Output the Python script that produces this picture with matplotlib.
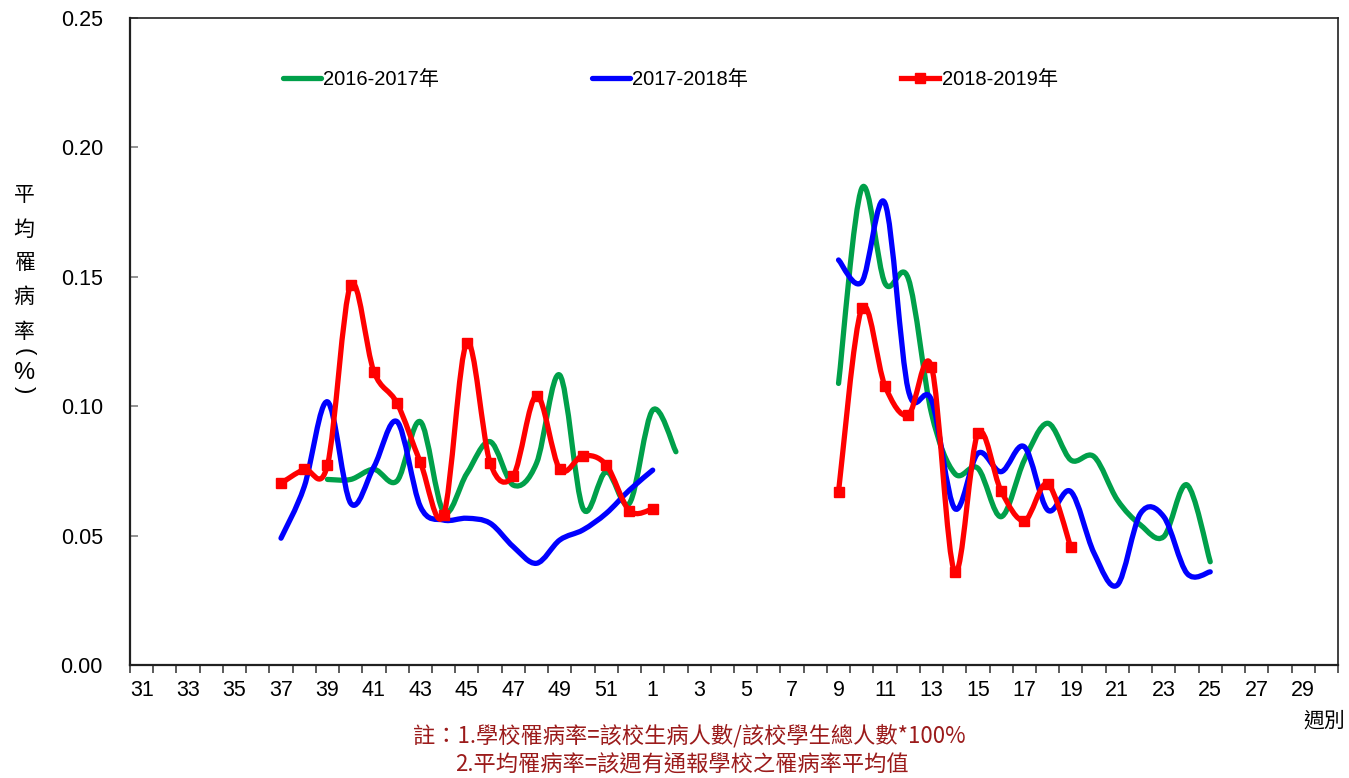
import matplotlib
matplotlib.use("Agg")
import matplotlib.pyplot as plt
from matplotlib.path import Path
from matplotlib.patches import PathPatch
from matplotlib.lines import Line2D

# ---------------- data ----------------
weeks = list(range(31, 53)) + list(range(1, 31))
tick_labels = [str(w) if i % 2 == 0 else "" for i, w in enumerate(weeks)]

# 2016-2017 season
g_fall_start = 39
g_fall = [0.0717, 0.0717, 0.0756, 0.0712, 0.0940, 0.0592, 0.0740, 0.0863,
          0.0695, 0.0780, 0.1120, 0.0605, 0.0747, 0.0625, 0.0985, 0.0824]
g_spring_start = 9
g_spring = [0.1088, 0.1842, 0.1475, 0.1494, 0.0973, 0.0740, 0.0760, 0.0573,
            0.0792, 0.0934, 0.0792, 0.0805, 0.0638, 0.0541, 0.0496, 0.0696,
            0.0399]

# 2017-2018 season
b_fall_start = 37
b_fall = [0.0490, 0.0689, 0.1017, 0.0625, 0.0766, 0.0940, 0.0612, 0.0560,
          0.0567, 0.0548, 0.0457, 0.0393, 0.0483, 0.0522, 0.0586, 0.0676,
          0.0753]
b_spring_start = 9
b_spring = [0.1565, 0.1480, 0.1784, 0.1063, 0.1024, 0.0605, 0.0818, 0.0747,
            0.0843, 0.0599, 0.0670, 0.0432, 0.0309, 0.0586, 0.0573, 0.0354,
            0.0360]

# 2018-2019 season
r_fall_start = 37
r_fall = [0.0702, 0.0756, 0.0773, 0.1468, 0.1133, 0.1011, 0.0783, 0.0580,
          0.1245, 0.0782, 0.0732, 0.1041, 0.0757, 0.0809, 0.0773, 0.0596,
          0.0603]
r_spring_start = 9
r_spring = [0.0670, 0.1378, 0.1078, 0.0966, 0.1153, 0.0360, 0.0895, 0.0672,
            0.0558, 0.0700, 0.0455]

series_names = ["2016-2017年", "2017-2018年", "2018-2019年"]
colors = ["#00A04A", "#0000FF", "#FF0000"]

# ---------------- helpers ----------------
def xs_for(start, vals):
    i0 = weeks.index(start)
    return list(range(i0, i0 + len(vals)))


def smooth_path(x, y):
    """Excel-like smoothed line as cubic Bezier path through the data points."""
    n = len(x)
    verts = [(x[0], y[0])]
    codes = [Path.MOVETO]
    for i in range(n - 1):
        xm1, ym1 = (x[i - 1], y[i - 1]) if i > 0 else (x[i], y[i])
        xp2, yp2 = (x[i + 2], y[i + 2]) if i + 2 < n else (x[i + 1], y[i + 1])
        c1 = (x[i] + (x[i + 1] - xm1) / 6.0, y[i] + (y[i + 1] - ym1) / 6.0)
        c2 = (x[i + 1] - (xp2 - x[i]) / 6.0, y[i + 1] - (yp2 - y[i]) / 6.0)
        verts += [c1, c2, (x[i + 1], y[i + 1])]
        codes += [Path.CURVE4, Path.CURVE4, Path.CURVE4]
    return Path(verts, codes)


# ---------------- figure ----------------
W, H = 1349, 778
fig = plt.figure(figsize=(W / 100, H / 100), dpi=100)
ax = fig.add_axes([130 / W, 113 / H, 1208 / W, 647 / H])

lat = ["Liberation Sans", "Noto Sans CJK TC"]
cjk = ["Noto Sans CJK TC", "DejaVu Sans"]

segments = [
    (g_fall_start, g_fall, 0, False), (g_spring_start, g_spring, 0, False),
    (b_fall_start, b_fall, 1, False), (b_spring_start, b_spring, 1, False),
    (r_fall_start, r_fall, 2, True), (r_spring_start, r_spring, 2, True),
]
for start, vals, ci, mk in segments:
    xs = xs_for(start, vals)
    patch = PathPatch(smooth_path(xs, vals), facecolor="none",
                      edgecolor=colors[ci], lw=3.8, capstyle="round",
                      joinstyle="round", zorder=3 + ci)
    ax.add_patch(patch)
    if mk:
        ax.plot(xs, vals, linestyle="none", marker="s", ms=7.5,
                color=colors[ci], zorder=6)

ax.set_xlim(-0.5, len(weeks) - 0.5)
ax.set_ylim(0, 0.25)

# x ticks: labels at category centres, marks at category borders
ax.set_xticks(range(len(weeks)))
ax.set_xticklabels(tick_labels, fontsize=15.5, family=lat)
ax.tick_params(axis="x", which="major", length=0, pad=11)
ax.set_xticks([i - 0.5 for i in range(len(weeks) + 1)], minor=True)
ax.tick_params(axis="x", which="minor", length=6, width=1.2,
               color="#404040", direction="out")

ax.set_yticks([0, 0.05, 0.10, 0.15, 0.20, 0.25])
ax.set_yticklabels(["0.00", "0.05", "0.10", "0.15", "0.20", "0.25"],
                   fontsize=15.5, family=lat)
ax.tick_params(axis="y", direction="in", length=6, width=1.2,
               color="#808080", pad=19.5)

for side, sp in ax.spines.items():
    sp.set_color("#202020")
    sp.set_linewidth(1.2)
ax.spines["left"].set_linewidth(1.6)
ax.spines["bottom"].set_linewidth(1.6)

# legend
handles = [
    Line2D([], [], color=colors[0], lw=3.8, solid_capstyle="round"),
    Line2D([], [], color=colors[1], lw=3.8, solid_capstyle="round"),
    Line2D([], [], color=colors[2], lw=3.8, marker="s", ms=7.5),
]
leg = ax.legend(handles, series_names, ncol=3, frameon=False,
                loc="center left", bbox_to_anchor=(0.1265, 0.905),
                prop={"family": lat, "size": 14.5}, handlelength=1.9,
                handletextpad=0.1, columnspacing=7.6, borderpad=0,
                borderaxespad=0)

# y label (vertical stacked characters)
ylabel_chars = ["平", "均", "罹", "病", "率", "(", "%", ")"]
ylabel_ys = [195, 230, 263, 297, 332, 352, 373, 390]
for ch, yy in zip(ylabel_chars, ylabel_ys):
    if ch in "()":
        fig.text(24 / W, 1 - yy / H, ch, ha="center", va="center",
                 fontsize=16, family=lat, rotation=-90)
    elif ch == "%":
        fig.text(24 / W, 1 - yy / H, ch, ha="center", va="center",
                 fontsize=17, family=lat)
    else:
        fig.text(24 / W, 1 - yy / H, ch, ha="center", va="center",
                 fontsize=15, family=cjk)

# x axis title
fig.text(1324 / W, 1 - 721 / H, "週別", ha="center", va="center",
         fontsize=15, family=cjk)

# footnotes
note_color = "#9B1B1B"
fig.text(413 / W, 1 - 736 / H,
         "註：1.學校罹病率=該校生病人數/該校學生總人數*100%",
         ha="left", va="center", fontsize=16, family=cjk, color=note_color)
fig.text(455 / W, 1 - 765 / H,
         "2.平均罹病率=該週有通報學校之罹病率平均值",
         ha="left", va="center", fontsize=16, family=cjk, color=note_color)

fig.savefig("out.png", dpi=100)
